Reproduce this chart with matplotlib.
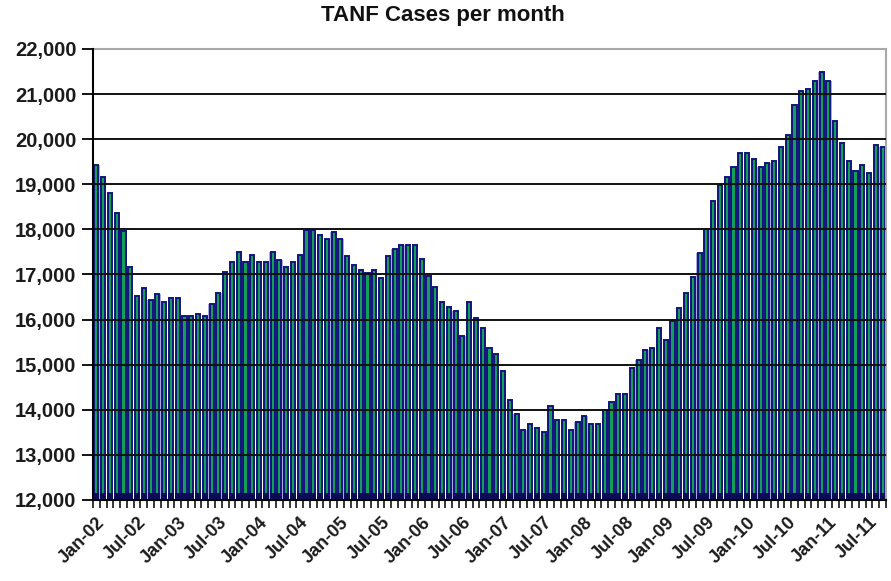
import matplotlib
matplotlib.use("Agg")
import matplotlib.pyplot as plt
from matplotlib.ticker import FixedLocator, FuncFormatter

# Monthly TANF caseload, Jan 2002 - Sep 2011
months = [f"{m}-{y:02d}" for y in range(2, 12)
          for m in ["Jan", "Feb", "Mar", "Apr", "May", "Jun",
                    "Jul", "Aug", "Sep", "Oct", "Nov", "Dec"]][:117]

cases = [
    # 2002
    19430, 19170, 18810, 18370, 17970, 17170, 16520, 16690, 16440, 16560, 16380, 16480,
    # 2003
    16480, 16080, 16080, 16120, 16080, 16340, 16600, 17050, 17270, 17490, 17270, 17440,
    # 2004
    17270, 17270, 17490, 17320, 17170, 17270, 17430, 17990, 17990, 17880, 17790, 17950,
    # 2005
    17790, 17400, 17210, 17100, 17040, 17100, 16920, 17400, 17570, 17650, 17650, 17650,
    # 2006
    17350, 16970, 16730, 16380, 16290, 16200, 15640, 16380, 16030, 15810, 15360, 15240,
    # 2007
    14850, 14220, 13910, 13550, 13690, 13600, 13510, 14080, 13770, 13770, 13550, 13730,
    # 2008
    13860, 13690, 13690, 14000, 14170, 14350, 14350, 14920, 15100, 15330, 15360, 15810,
    # 2009
    15550, 15980, 16250, 16600, 16950, 17480, 18000, 18630, 18980, 19170, 19390, 19690,
    # 2010
    19690, 19560, 19390, 19480, 19520, 19820, 20090, 20750, 21060, 21110, 21280, 21500,
    # 2011
    21280, 20410, 19910, 19520, 19300, 19430, 19260, 19870, 19830,
]

y_ticks = list(range(12000, 22001, 1000))
label_every = 6

title = "TANF Cases per month"

plt.rcParams["font.family"] = ["Liberation Sans", "DejaVu Sans"]

fig = plt.figure(figsize=(8.91, 5.81), dpi=100)
ax = fig.add_axes([93 / 891, 1 - 500 / 581, (886 - 93) / 891, (500 - 49) / 581])

x = list(range(len(cases)))
base = y_ticks[0]
heights = [v - base for v in cases]

# soft lavender halo behind each bar
ax.bar(x, heights, bottom=base, width=0.94, color="#a8a8de", linewidth=0, zorder=1)
# main bars: green fill with navy outline
ax.bar(x, heights, bottom=base, width=0.62, color="#10a058",
       edgecolor="#14147c", linewidth=1.4, zorder=2)
# dark base strip along the floor of the bars
ax.bar(x, [155] * len(x), bottom=base, width=0.9, color="#0b0b5a",
       linewidth=0, zorder=2.5)

ax.set_ylim(y_ticks[0], y_ticks[-1])
ax.set_xlim(-0.5, len(cases) - 0.5)

# horizontal gridlines drawn over bars
for v in y_ticks[1:-1]:
    ax.axhline(v, color="#111111", linewidth=1.4, zorder=3)

ax.set_yticks(y_ticks)
ax.yaxis.set_major_formatter(FuncFormatter(lambda v, p: f"{int(v):,}"))
ax.tick_params(axis="y", direction="out", length=8, width=1.3, color="black",
               labelsize=14.5, pad=4)
for lab in ax.get_yticklabels():
    lab.set_fontweight("bold")
    lab.set_color("#1b1b1b")

label_pos = x[::label_every]
ax.xaxis.set_major_locator(FixedLocator(label_pos))
ax.set_xticklabels([months[i] for i in label_pos], rotation=45, ha="right",
                   rotation_mode="anchor", fontsize=13, fontweight="bold",
                   color="#1b1b1b")
ax.tick_params(axis="x", which="major", length=0, pad=10)
ax.xaxis.set_minor_locator(FixedLocator([i - 0.5 for i in range(len(cases) + 1)]))
ax.tick_params(axis="x", which="minor", direction="out", length=6, width=1.1,
               color="black")

for side in ["top", "right"]:
    ax.spines[side].set_color("#a8a8a8")
    ax.spines[side].set_linewidth(1.5)
for side in ["left", "bottom"]:
    ax.spines[side].set_color("black")
    ax.spines[side].set_linewidth(1.5)
    ax.spines[side].set_zorder(4)

fig.text(0.497, 1 - 15 / 581, title, ha="center", va="center",
         fontsize=16, fontweight="bold", color="#111111")

fig.savefig("out.png", dpi=100)
